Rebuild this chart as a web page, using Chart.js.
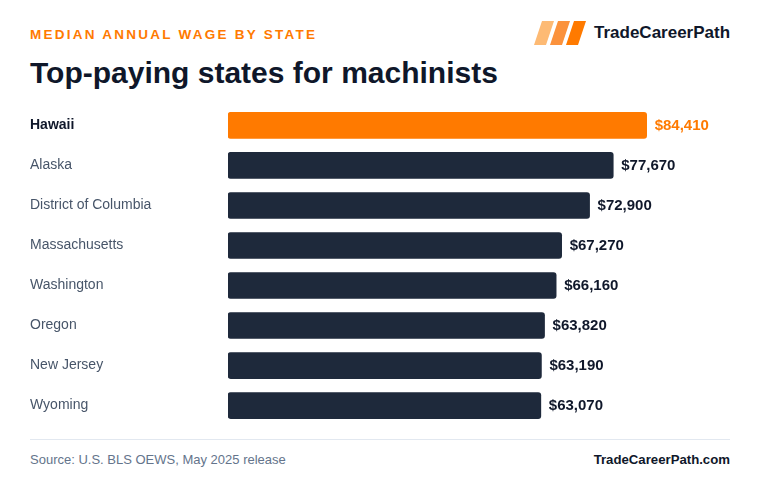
<!DOCTYPE html>
<html>
<head>
<meta charset="utf-8">
<script src="https://cdn.jsdelivr.net/npm/chart.js@4"></script>
<style>
  html, body { margin: 0; padding: 0; background: #fff; }
  body { width: 760px; height: 496px; position: relative; overflow: hidden; font-family: "Liberation Sans", Arial, sans-serif; }
  .kicker { position: absolute; left: 30px; top: 27px; font-size: 13.5px; font-weight: bold; letter-spacing: 2.25px; color: #ff7a00; }
  .title { position: absolute; left: 30px; top: 56px; font-size: 30px; font-weight: bold; color: #0f172a; }
  .brand { position: absolute; left: 534px; top: 21px; height: 24px; display: flex; align-items: center; }
  .brand span { margin-left: 8px; font-size: 17px; font-weight: bold; color: #0f172a; }
  .rule { position: absolute; left: 30px; top: 439px; width: 700px; height: 1px; background: #e2e8f0; }
  .source { position: absolute; left: 30px; top: 452px; font-size: 13px; color: #64748b; }
  .site { position: absolute; right: 30px; top: 452px; font-size: 13.2px; font-weight: bold; color: #0f172a; }
  #wrap { position: absolute; left: 0; top: 97px; width: 760px; height: 337px; }
</style>
</head>
<body>
<div class="kicker">MEDIAN ANNUAL WAGE BY STATE</div>
<div class="title">Top-paying states for machinists</div>
<div class="brand">
  <svg width="52" height="24" viewBox="0 0 52 24">
    <polygon points="8,0 20,0 12,24 0,24" fill="#fdba74"/>
    <polygon points="24,0 36,0 28,24 16,24" fill="#fb923c"/>
    <polygon points="40,0 52,0 44,24 32,24" fill="#ff7a00"/>
  </svg>
  <span>TradeCareerPath</span>
</div>
<div id="wrap"><canvas id="chart-bar"></canvas></div>
<div class="rule"></div>
<div class="source">Source: U.S. BLS OEWS, May 2025 release</div>
<div class="site">TradeCareerPath.com</div>

<script>
const states = ["Hawaii", "Alaska", "District of Columbia", "Massachusetts", "Washington", "Oregon", "New Jersey", "Wyoming"];
const wages = [84410, 77670, 72900, 67270, 66160, 63820, 63190, 63070];

const ORANGE = "#ff7a00";
const NAVY = "#1e293b";
const INK = "#0f172a";

// подписи значений справа от столбцов
const valueLabels = {
  id: "valueLabels",
  afterDatasetsDraw(chart) {
    const ctx = chart.ctx;
    const meta = chart.getDatasetMeta(0);
    ctx.save();
    ctx.font = "bold 15px 'Liberation Sans', Arial, sans-serif";
    ctx.textBaseline = "middle";
    ctx.textAlign = "left";
    meta.data.forEach((bar, i) => {
      ctx.fillStyle = i === 0 ? ORANGE : INK;
      ctx.fillText("$" + wages[i].toLocaleString("en-US"), bar.x + 8, bar.y);
    });
    ctx.restore();
  },
};

new Chart(document.getElementById("chart-bar").getContext("2d"), {
  type: "bar",
  data: {
    labels: states,
    datasets: [{
      data: wages,
      backgroundColor: wages.map((v, i) => (i === 0 ? ORANGE : NAVY)),
      borderRadius: 3,
      borderSkipped: false,
      barThickness: 26,
    }],
  },
  plugins: [valueLabels],
  options: {
    indexAxis: "y",
    responsive: true,
    maintainAspectRatio: false,
    animation: false,
    layout: { padding: { left: 30, right: 36, top: 0, bottom: 0 } },
    scales: {
      x: { display: false, min: 0, max: 100000 },
      y: {
        grid: { display: false },
        border: { display: false },
        afterFit: (scale) => { scale.width = 198; },
        ticks: {
          crossAlign: "far",
          padding: 0,
          color: (c) => (c.index === 0 ? INK : "#475569"),
          font: (c) => ({
            family: "'Liberation Sans', Arial, sans-serif",
            size: 14,
            weight: c.index === 0 ? "bold" : "normal",
          }),
        },
      },
    },
    plugins: { legend: { display: false }, tooltip: { enabled: false } },
  },
});
</script>
</body>
</html>
